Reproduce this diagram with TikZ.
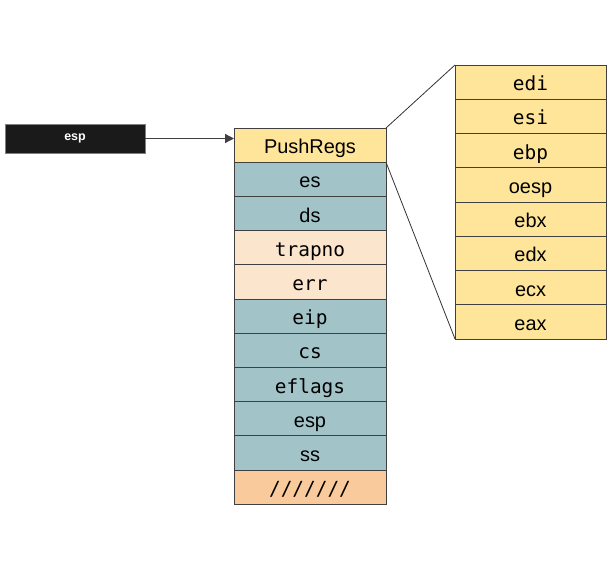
\documentclass[tikz,border=0pt]{standalone}
\usepackage{fontspec}
\setmainfont{Liberation Sans}
\newfontfamily\monofont{DejaVu Sans Mono}
\usepackage{tikz}
\usetikzlibrary{arrows.meta,positioning}

\definecolor{pushyellow}{HTML}{FFE599}
\definecolor{segblue}{HTML}{A2C4C9}
\definecolor{errpeach}{HTML}{FCE5CD}
\definecolor{padorange}{HTML}{F9CB9C}
\definecolor{espblack}{HTML}{1A1A1A}

\begin{document}
\begin{tikzpicture}[x=1bp,y=-1bp,
    slot/.style={draw=black!75, line width=0.8bp, minimum width=152bp, minimum height=34.2bp,
      inner sep=0pt, outer sep=0pt, text height=20bp, text depth=3bp,
      font=\fontsize{20}{20}\selectfont},
    regslot/.style={slot, fill=pushyellow, minimum width=151bp, minimum height=34.25bp},
    mono/.style={font=\monofont\fontsize{19.5}{20}\selectfont}]
  \useasboundingbox (0,0) rectangle (612,564);

  % the stack
  \node[slot, fill=pushyellow] (pushregs) at (310,145.1) {PushRegs};
  \node[slot, fill=segblue, below=0pt of pushregs] (es) {es};
  \node[slot, fill=segblue, below=0pt of es] (ds) {ds};
  \node[slot, mono, fill=errpeach, below=0pt of ds] (trapno) {trapno};
  \node[slot, mono, fill=errpeach, below=0pt of trapno] (err) {err};
  \node[slot, mono, fill=segblue, below=0pt of err] (eip) {eip};
  \node[slot, mono, fill=segblue, below=0pt of eip] (cs) {cs};
  \node[slot, mono, fill=segblue, below=0pt of cs] (eflags) {eflags};
  \node[slot, fill=segblue, below=0pt of eflags] (esp) {esp};
  \node[slot, fill=segblue, below=0pt of esp] (ss) {ss};
  \node[slot, mono, fill=padorange, below=0pt of ss] (pad) {///////};

  % the pushed registers
  \node[regslot, mono] (edi) at (530.5,82.1) {edi};
  \node[regslot, mono, below=0pt of edi] (esi) {esi};
  \node[regslot, mono, below=0pt of esi] (ebp) {ebp};
  \node[regslot, below=0pt of ebp] (oesp) {oesp};
  \node[regslot, below=0pt of oesp] (ebx) {ebx};
  \node[regslot, below=0pt of ebx] (edx) {edx};
  \node[regslot, below=0pt of edx] (ecx) {ecx};
  \node[regslot, below=0pt of ecx] (eax) {eax};

  % stack pointer
  \node[draw=black!50, fill=espblack, text=white, minimum width=140bp, minimum height=29bp,
    font=\bfseries\fontsize{12.5}{12.5}\selectfont] (espptr) at (75,138.5) {esp};

  \draw[black!75, line width=1.3bp, -{Triangle[length=9bp,width=9bp]}]
    (espptr.east) -- (espptr.east -| pushregs.west);
  \draw[black!80, line width=0.8bp] (pushregs.north east) -- (edi.north west);
  \draw[black!80, line width=0.8bp] (pushregs.south east) -- (eax.south west);
\end{tikzpicture}
\end{document}
